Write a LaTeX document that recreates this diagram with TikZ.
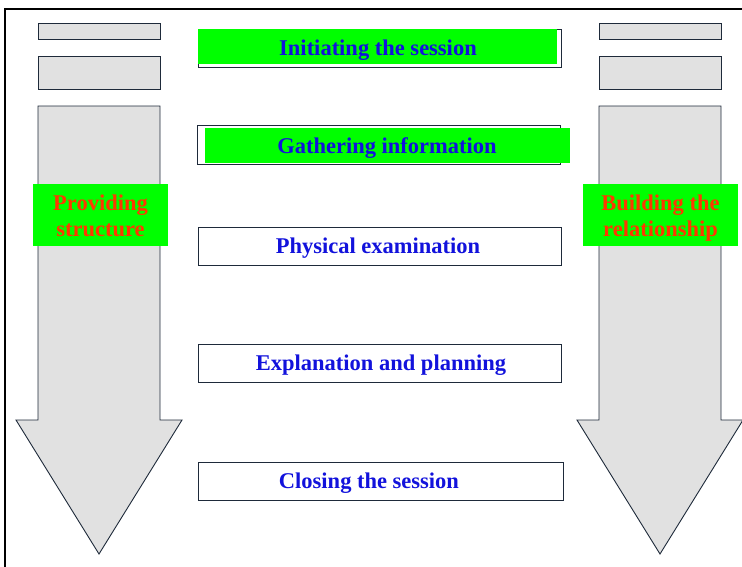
\documentclass[tikz,border=0pt]{standalone}
\usepackage{fontspec}
\setmainfont{Liberation Serif}
\begin{document}
\definecolor{panelgray}{RGB}{225,225,225}
\definecolor{edgenavy}{RGB}{30,42,58}
\definecolor{stepblue}{RGB}{18,18,220}
\definecolor{labelred}{RGB}{255,55,0}
\definecolor{hilite}{RGB}{0,255,0}
\begin{tikzpicture}[x=1pt,y=-1pt,
  graybar/.style={draw=edgenavy,fill=panelgray,line width=0.9pt},
  stepbox/.style={draw=edgenavy,fill=white,line width=0.9pt},
  greenfill/.style={fill=hilite,draw=none},
  steptext/.style={text=stepblue,font=\fontsize{22.5}{27}\selectfont\bfseries,inner sep=0pt,anchor=base},
  sidetext/.style={text=labelred,font=\fontsize{22.5}{26}\selectfont\bfseries,align=center,inner sep=0pt,text height=16pt,anchor=north}]
\clip (0,0) rectangle (742,566);
\useasboundingbox (0,0) rectangle (742,566);
% outer frame
\draw[line width=2pt] (5,600) -- (5,9) -- (760,9);
% left column: bars and downward arrow
\draw[graybar] (38,23) rectangle (160,39);
\draw[graybar] (38,56) rectangle (160,89);
\draw[graybar,line join=miter] (38,106) -- (160,106) -- (160,420) -- (182,420) -- (99,554) -- (16,420) -- (38,420) -- cycle;
% right column: bars and downward arrow
\draw[graybar] (599,23) rectangle (721,39);
\draw[graybar] (599,56) rectangle (721,89);
\draw[graybar,line join=miter] (599,106) -- (721,106) -- (721,420) -- (743,420) -- (660,554) -- (577,420) -- (599,420) -- cycle;
% side labels (last baseline 16pt below the node's top)
\fill[greenfill] (33,184) rectangle (168,246);
\node[sidetext] (provide) at (100.5,220) {Providing\\structure};
\fill[greenfill] (583,184) rectangle (738,246);
\node[sidetext] (build) at (660.5,220) {Building the\\relationship};
% consultation steps
\draw[stepbox] (198,29) rectangle (561,67);
\fill[greenfill] (198,29) rectangle (557,64);
\node[steptext] (initiate) at (378,55) {Initiating the session};
\draw[stepbox] (197,125) rectangle (560,164);
\fill[greenfill] (205,128) rectangle (570,163);
\node[steptext] (gather) at (387,153) {Gathering information};
\draw[stepbox] (198,227) rectangle (561,265);
\node[steptext] (exam) at (378,253) {Physical examination};
\draw[stepbox] (198,344) rectangle (561,382);
\node[steptext] (explain) at (381,370) {Explanation and planning};
\draw[stepbox] (198,462) rectangle (563,500);
\node[steptext] (close) at (369,488) {Closing the session};
\end{tikzpicture}
\end{document}
